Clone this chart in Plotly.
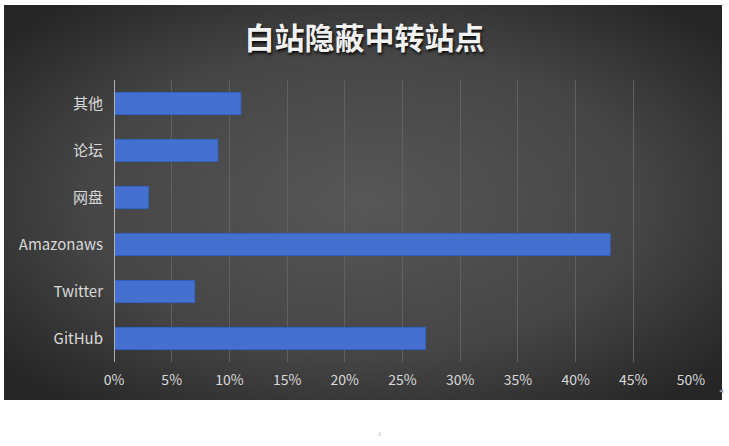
import base64

import plotly.graph_objects as go

# Chart data (share of white-site relay points).
categories = ['GitHub', 'Twitter', 'Amazonaws', '网盘', '论坛', '其他']
shares = [0.27, 0.07, 0.43, 0.03, 0.09, 0.11]
tick_values = [0, 0.05, 0.10, 0.15, 0.20, 0.25, 0.30, 0.35, 0.40, 0.45, 0.50]
tick_labels = ['0%', '5%', '10%', '15%', '20%', '25%', '30%', '35%', '40%', '45%', '50%']

W, H = 729, 446
L, R, T, B = 114, 38, 80, 84
plot_w = W - L - R
plot_h = H - T - B


def px_x(px):
    return (px - L) / plot_w


def px_y(py):
    return (H - B - py) / plot_h


# Dark radial background, like the Office chart style.
svg = (
    '<svg xmlns="http://www.w3.org/2000/svg" width="718" height="395">'
    '<defs><radialGradient id="g" cx="50%" cy="50%" r="65%">'
    '<stop offset="0%" stop-color="#575757"/>'
    '<stop offset="60%" stop-color="#454545"/>'
    '<stop offset="100%" stop-color="#262626"/>'
    '</radialGradient></defs>'
    '<rect width="718" height="395" fill="url(#g)"/></svg>'
)
bg_src = 'data:image/svg+xml;base64,' + base64.b64encode(svg.encode()).decode()

fig = go.Figure()
fig.add_trace(go.Bar(
    x=shares,
    y=categories,
    orientation='h',
    marker=dict(color='#4471cf', line=dict(color='#3462c2', width=1)),
    hoverinfo='x+y',
))

fig.update_layout(
    width=W,
    height=H,
    margin=dict(l=L, r=R, t=T, b=B, pad=0),
    paper_bgcolor='white',
    plot_bgcolor='rgba(0,0,0,0)',
    bargap=0.53,
    showlegend=False,
    font=dict(family='Noto Sans CJK SC, Noto Sans, sans-serif', color='#d9d9d9'),
    title=dict(
        text='<b>白站隐蔽中转站点</b>',
        x=0.5,
        xanchor='center',
        y=1 - 38 / H,
        yanchor='middle',
        font=dict(size=30, color='#f2f2f2',
                  shadow='1px 2px 3px rgba(0,0,0,0.9)'),
    ),
    images=[dict(
        source=bg_src,
        xref='paper', yref='paper',
        x=px_x(4), y=px_y(5),
        sizex=(722 - 4) / plot_w, sizey=(400 - 5) / plot_h,
        xanchor='left', yanchor='top',
        sizing='stretch',
        layer='below',
    )],
    annotations=[
        dict(text='◂', xref='paper', yref='paper', x=px_x(725), y=px_y(397),
             showarrow=False, font=dict(size=8, color='#999999')),
        dict(text='.ı', xref='paper', yref='paper', x=px_x(379), y=px_y(440),
             showarrow=False, font=dict(size=7, color='#aaaaaa')),
    ],
)

fig.update_xaxes(
    range=[0, 0.5],
    tickvals=tick_values,
    ticktext=tick_labels,
    showgrid=True,
    gridcolor='#616161',
    gridwidth=1,
    zeroline=False,
    showline=False,
    ticks='',
    ticklabelstandoff=8,
    tickfont=dict(size=14, color='#d9d9d9'),
)

fig.update_yaxes(
    showgrid=False,
    zeroline=False,
    showline=False,
    ticks='',
    ticklabelstandoff=10,
    tickfont=dict(size=15, color='#d9d9d9'),
)

# Vertical axis line at 0%.
fig.add_shape(type='line', xref='x', yref='paper', x0=0, x1=0, y0=0, y1=1,
              line=dict(color='#b0b0b0', width=2))

fig.write_html('out.html', config={'displayModeBar': False})

# Drop the default page margin so the figure sits at the top-left corner.
with open('out.html', encoding='utf-8') as f:
    html = f.read()
html = html.replace('<head>', '<head><style>body{margin:0;}</style>', 1)
with open('out.html', 'w', encoding='utf-8') as f:
    f.write(html)
